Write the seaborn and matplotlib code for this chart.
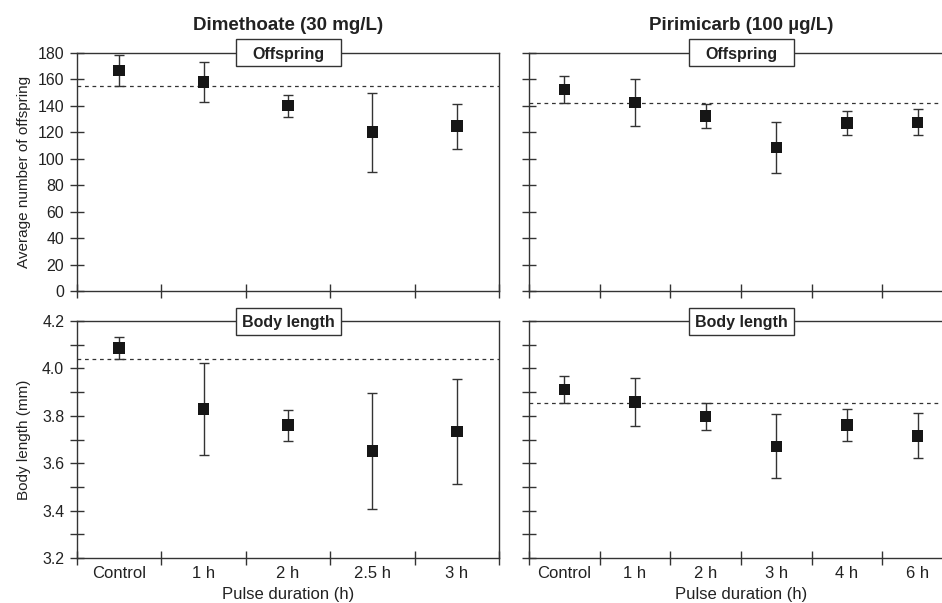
import numpy as np
import pandas as pd
import matplotlib.pyplot as plt
import seaborn as sns
from matplotlib.patches import Rectangle
from matplotlib.ticker import MultipleLocator, FixedLocator

# pulse durations per pesticide
dim_labels = ['Control', '1 h', '2 h', '2.5 h', '3 h']
pir_labels = ['Control', '1 h', '2 h', '3 h', '4 h', '6 h']

# offspring (mean, SD)
dim_offspring = [166.5, 157.8, 140.0, 119.9, 124.5]
dim_offspring_sd = [11.6, 14.9, 8.3, 29.7, 17.1]
pir_offspring = [152.2, 142.3, 132.1, 108.5, 126.8, 127.4]
pir_offspring_sd = [10.3, 18.0, 8.9, 19.1, 9.3, 9.7]

# body length in mm (mean, SD)
dim_length = [4.087, 3.828, 3.760, 3.651, 3.734]
dim_length_sd = [0.047, 0.194, 0.066, 0.244, 0.220]
pir_length = [3.911, 3.858, 3.797, 3.671, 3.761, 3.716]
pir_length_sd = [0.058, 0.101, 0.058, 0.135, 0.067, 0.096]

sns.set_theme(style='ticks')
plt.rcParams['font.family'] = ['Liberation Sans', 'DejaVu Sans']
plt.rcParams['text.color'] = '#222222'
plt.rcParams['axes.labelcolor'] = '#222222'
plt.rcParams['xtick.color'] = '#333333'
plt.rcParams['ytick.color'] = '#333333'
plt.rcParams['xtick.labelcolor'] = '#222222'
plt.rcParams['ytick.labelcolor'] = '#222222'

line_c = '#333333'
W, H = 942, 603
fig = plt.figure(figsize=(W / 100, H / 100), dpi=100)


def fig_axes(x0, y0, x1, y1):
    # pixel box -> figure coords
    return fig.add_axes([x0 / W, 1 - y1 / H, (x1 - x0) / W, (y1 - y0) / H])


def draw_panel(ax, labels, means, sds, box_text, ylim, ystep, yminor, show_ylabels, show_xlabels):
    df = pd.DataFrame({'pos': np.arange(len(labels)), 'dur': labels, 'mean': means, 'sd': sds})
    ax.errorbar(df['pos'], df['mean'], yerr=df['sd'], fmt='none', ecolor=line_c,
                elinewidth=1.0, capsize=3.8, capthick=1.0, zorder=2)
    sns.scatterplot(data=df, x='pos', y='mean', marker='s', s=70, color='#161616',
                    edgecolor='none', linewidth=0, zorder=3, ax=ax, legend=False)
    base = means[0] - sds[0]
    ax.axhline(base, color=line_c, lw=0.9, ls=(0, (3, 3)), zorder=1)

    ax.set_xlim(-0.5, len(labels) - 0.5)
    ax.set_ylim(*ylim)
    ax.xaxis.set_major_locator(FixedLocator(df['pos']))
    ax.xaxis.set_minor_locator(FixedLocator(np.arange(len(labels) + 1) - 0.5))
    ax.yaxis.set_major_locator(MultipleLocator(ystep))
    if yminor:
        ax.yaxis.set_minor_locator(MultipleLocator(yminor))
        ax.tick_params(axis='y', which='minor', direction='inout', length=10.5, width=1.0)
    ax.tick_params(axis='x', which='major', length=0, pad=6, labelsize=12)
    ax.tick_params(axis='x', which='minor', direction='inout', length=10.5, width=1.0)
    ax.tick_params(axis='y', which='major', direction='inout', length=10.5, width=1.0,
                   pad=4, labelsize=11.4)
    if show_xlabels:
        ax.set_xticklabels(labels)
    else:
        ax.set_xticklabels([])
    if not show_ylabels:
        ax.set_yticklabels([])
    ax.set_xlabel('')
    ax.set_ylabel('')
    for sp in ax.spines.values():
        sp.set_color(line_c)
        sp.set_linewidth(1.0)

    # label box centred on the top spine (105 x 27 px)
    bb = ax.get_position()
    bw = 105 / (bb.width * W)
    bh = 27 / (bb.height * H)
    ax.add_patch(Rectangle((0.5 - bw / 2, 1 - bh / 2), bw, bh, transform=ax.transAxes,
                           fc='white', ec=line_c, lw=1.0, clip_on=False, zorder=5))
    ax.text(0.5, 1.0 - 1.5 / (bb.height * H), box_text, transform=ax.transAxes,
            ha='center', va='center', fontsize=11.5, fontweight='bold',
            color='#222222', zorder=6)


ax_tl = fig_axes(77, 52.7, 499, 291)
ax_tr = fig_axes(529, 52.7, 953, 291)
ax_bl = fig_axes(77, 321, 499, 558)
ax_br = fig_axes(529, 321, 953, 558)

draw_panel(ax_tl, dim_labels, dim_offspring, dim_offspring_sd, 'Offspring', (0, 180), 20, None, True, False)
draw_panel(ax_tr, pir_labels, pir_offspring, pir_offspring_sd, 'Offspring', (0, 180), 20, None, False, False)
draw_panel(ax_bl, dim_labels, dim_length, dim_length_sd, 'Body length', (3.2, 4.2), 0.2, 0.1, True, True)
draw_panel(ax_br, pir_labels, pir_length, pir_length_sd, 'Body length', (3.2, 4.2), 0.2, 0.1, False, True)

ax_bl.yaxis.set_major_formatter(plt.FormatStrFormatter('%.1f'))

fig.text(288 / W, 1 - 25 / H, 'Dimethoate (30 mg/L)', ha='center', va='center',
         fontsize=13.5, fontweight='bold')
fig.text(741 / W, 1 - 25 / H, 'Pirimicarb (100 µg/L)', ha='center', va='center',
         fontsize=13.5, fontweight='bold')

ax_tl.set_ylabel('Average number of offspring', fontsize=11)
ax_bl.set_ylabel('Body length (mm)', fontsize=11)
for a in (ax_tl, ax_bl):
    a.yaxis.set_label_coords(-46 / 422, 0.5)

fig.text(288 / W, 1 - 594 / H, 'Pulse duration (h)', ha='center', va='center', fontsize=12)
fig.text(741 / W, 1 - 594 / H, 'Pulse duration (h)', ha='center', va='center', fontsize=12)

fig.savefig('out.png', dpi=100)
